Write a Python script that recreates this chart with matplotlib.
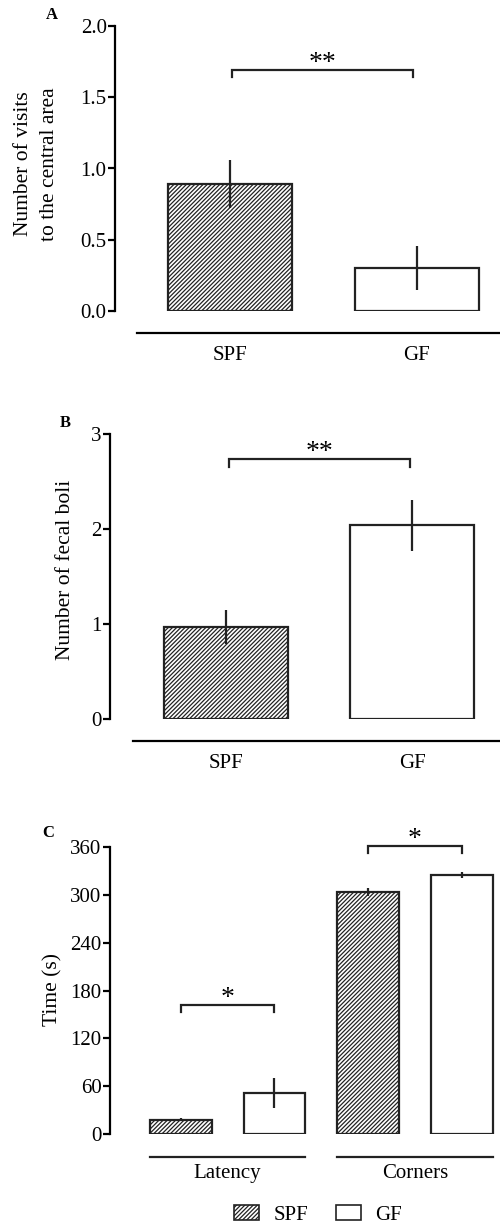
import matplotlib
matplotlib.use("Agg")
import matplotlib.pyplot as plt
from matplotlib.patches import Patch

plt.rcParams['font.family'] = ['Liberation Serif', 'DejaVu Serif']
plt.rcParams['hatch.linewidth'] = 0.9

# ---------------- data ----------------
groups_ab = ["SPF", "GF"]
visits_mean = [0.89, 0.30]
visits_se = [0.17, 0.155]
boli_mean = [0.97, 2.04]
boli_se = [0.18, 0.27]
c_categories = ["Latency", "Corners"]
c_spf_mean = [18, 303.5]
c_spf_se = [2, 5]
c_gf_mean = [51.5, 325]
c_gf_se = [19, 4]
a_ticks = [0.0, 0.5, 1.0, 1.5, 2.0]
a_ticklabels = ["0.0", "0.5", "1.0", "1.5", "2.0"]
b_ticks = [0, 1, 2, 3]
c_ticks = [0, 60, 120, 180, 240, 300, 360]
legend_labels = ["SPF", "GF"]

W, H = 500, 1226
fig = plt.figure(figsize=(W / 100, H / 100), dpi=100)

TICK_FS = 15
LAB_FS = 15.5
STAR_FS = 20
LW = 1.6
HATCH = '/' * 8


def add_ax(left, right, top, bottom):
    return fig.add_axes([left / W, 1 - bottom / H, (right - left) / W, (bottom - top) / H])


def style(ax):
    for s in ['top', 'right']:
        ax.spines[s].set_visible(False)
    ax.spines['left'].set_linewidth(LW)
    ax.spines['bottom'].set_linewidth(LW)
    ax.spines['bottom'].set_position(('outward', 16))
    ax.tick_params(axis='y', direction='out', length=5, width=LW, labelsize=TICK_FS, pad=1)
    ax.tick_params(axis='x', length=0, labelsize=TICK_FS, pad=9.5)


def bracket(ax, x1, x2, y, drop, star):
    ax.plot([x1, x1, x2, x2], [y - drop, y, y, y - drop], color='#222222', lw=LW,
            clip_on=False, solid_joinstyle='miter')
    ax.text((x1 + x2) / 2, y, star, ha='center', va='baseline',
            fontsize=STAR_FS, clip_on=False)


bar_kw = dict(edgecolor='#222222', linewidth=LW)
err_kw = dict(fmt='none', ecolor='#222222', elinewidth=LW, capsize=0)

# ---------------- Panel A ----------------
axA = add_ax(115, 500, 26, 311)
xA = [0, 1]
axA.bar(xA[0], visits_mean[0], width=0.663, color='white', hatch=HATCH, **bar_kw)
axA.bar(xA[1], visits_mean[1], width=0.663, color='white', **bar_kw)
axA.errorbar(xA, visits_mean, yerr=visits_se, **err_kw)
axA.set_xlim(-0.615, 1.444)
axA.set_ylim(0, 2.0)
style(axA)
axA.spines['bottom'].set_bounds(-0.5, 1.444)
axA.set_yticks(a_ticks)
axA.set_yticklabels(a_ticklabels)
axA.set_xticks(xA)
axA.set_xticklabels(groups_ab)
axA.set_ylabel("Number of visits\nto the central area", fontsize=LAB_FS, linespacing=1.45)
axA.yaxis.set_label_coords(-0.146, 0.516)
bracket(axA, 0.01, 0.98, 1.69, 0.05, "**")
fig.text(52 / W, 1 - 15 / H, "A", fontsize=12, fontweight='bold', ha='center', va='center')

# ---------------- Panel B ----------------
axB = add_ax(110, 500, 434, 719)
xB = [0, 1]
axB.bar(xB[0], boli_mean[0], width=0.667, color='white', hatch=HATCH, **bar_kw)
axB.bar(xB[1], boli_mean[1], width=0.667, color='white', **bar_kw)
axB.errorbar(xB, boli_mean, yerr=boli_se, **err_kw)
axB.set_xlim(-0.624, 1.473)
axB.set_ylim(0, 3)
style(axB)
axB.spines['bottom'].set_bounds(-0.5, 1.473)
axB.set_yticks(b_ticks)
axB.set_xticks(xB)
axB.set_xticklabels(groups_ab)
axB.set_ylabel("Number of fecal boli", fontsize=LAB_FS)
axB.yaxis.set_label_coords(-0.09, 0.523)
bracket(axB, 0.015, 0.99, 2.74, 0.09, "**")
fig.text(65 / W, 1 - 423 / H, "B", fontsize=12, fontweight='bold', ha='center', va='center')

# ---------------- Panel C ----------------
axC = add_ax(110, 500, 847, 1134)
xC = [0, 1]
off = 0.25
bw = 0.33
axC.bar([x - off for x in xC], c_spf_mean, width=bw, color='white', hatch=HATCH, **bar_kw)
axC.bar([x + off for x in xC], c_gf_mean, width=bw, color='white', **bar_kw)
axC.errorbar([x - off for x in xC], c_spf_mean, yerr=c_spf_se, **err_kw)
axC.errorbar([x + off for x in xC], c_gf_mean, yerr=c_gf_se, **err_kw)
axC.set_xlim(-0.627, 1.453)
axC.set_ylim(0, 360)
for s in ['top', 'right', 'bottom']:
    axC.spines[s].set_visible(False)
axC.spines['left'].set_linewidth(LW)
axC.tick_params(axis='y', direction='out', length=5, width=LW, labelsize=TICK_FS, pad=1)
axC.set_yticks(c_ticks)
axC.set_xticks([])
# group underlines + labels
for x, name in zip(xC, c_categories):
    axC.plot([x - 0.415, x + 0.415], [-29, -29], color='#222222', lw=LW, clip_on=False)
    axC.text(x, -50, name, ha='center', va='center', fontsize=TICK_FS, clip_on=False)
axC.set_ylabel("Time (s)", fontsize=LAB_FS)
axC.yaxis.set_label_coords(-0.123, 0.505)
bracket(axC, -0.25, 0.25, 162, 9, "*")
bracket(axC, 0.75, 1.25, 361, 8, "*")
fig.text(48 / W, 1 - 833 / H, "C", fontsize=12, fontweight='bold', ha='center', va='center')

# legend
handles = [Patch(facecolor='white', edgecolor='#222222', hatch=HATCH, linewidth=1.2),
           Patch(facecolor='white', edgecolor='#222222', linewidth=1.2)]
fig.legend(handles, legend_labels, loc='center', bbox_to_anchor=(318 / W, 1 - 1215 / H),
           ncol=2, frameon=False, fontsize=TICK_FS, handlelength=1.2, handleheight=0.75,
           handletextpad=0.7, columnspacing=1.3, borderpad=0)

fig.savefig("out.png", dpi=100)
